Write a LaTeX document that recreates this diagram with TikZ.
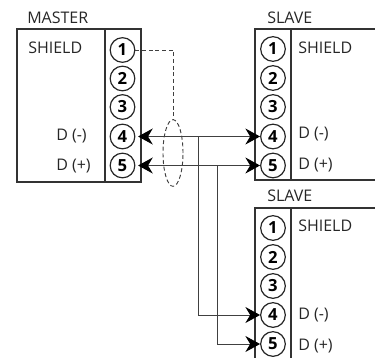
\documentclass[tikz,border=0pt]{standalone}
\usepackage{fontspec}
\setmainfont{Open Sans}
\usetikzlibrary{arrows.meta, shapes.geometric}

\begin{document}
\begin{tikzpicture}[
    x=0.75pt, y=-0.75pt,
    pin/.style={circle, draw=black!85, line width=0.9pt, fill=white,
        minimum size=18.5pt, inner sep=0pt, font=\fontsize{12.5}{14}\selectfont\bfseries},
    caption/.style={anchor=west, inner sep=0pt, text=black!85, font=\fontsize{12}{14}\selectfont},
    frame/.style={draw=black!80, line width=1pt},
    wire/.style={draw=black!75, line width=0.7pt, shorten <=2pt,
        {Stealth[length=11pt,width=12pt,black]}-{Stealth[length=11pt,width=12pt,black]}},
    branch/.style={draw=black!75, line width=0.7pt, -{Stealth[length=11pt,width=12pt,black]}},
    shield/.style={draw=black!75, line width=0.7pt, dash pattern=on 3pt off 2pt}
]
    \useasboundingbox (0,0) rectangle (375,358);
    % boxes
    \draw[frame] (17,29) rectangle (141,182);
    \draw[frame] (105,29) -- (105,182);
    \draw[frame] (375,29) -- (255,29) -- (255,180) -- (375,180);
    \draw[frame] (291,29) -- (291,180);
    \draw[frame] (375,208) -- (255,208) -- (255,358);
    \draw[frame] (291,208) -- (291,358);
    % master
    \node[caption] (mastertitle) at (27,18) {MASTER};
    \node[caption] (mastershield) at (28,48) {SHIELD};
    \node[caption] (masterneg) at (56,136) {D (-)};
    \node[caption] (masterpos) at (56,166) {D (+)};
    \node[pin] (m1) at (122.5,50) {1};
    \node[pin] (m2) at (122.5,78.5) {2};
    \node[pin] (m3) at (122.5,107) {3};
    \node[pin] (m4) at (122.5,136.5) {4};
    \node[pin] (m5) at (122.5,165.5) {5};
    % first slave
    \node[caption] (slaveatitle) at (267,18) {SLAVE};
    \node[caption] (slaveashield) at (298,48) {SHIELD};
    \node[caption] (slaveaneg) at (298,134) {D (-)};
    \node[caption] (slaveapos) at (298,165) {D (+)};
    \node[pin] (a1) at (273,49) {1};
    \node[pin] (a2) at (273,78) {2};
    \node[pin] (a3) at (273,107) {3};
    \node[pin] (a4) at (273,136.5) {4};
    \node[pin] (a5) at (273,165.5) {5};
    % second slave
    \node[caption] (slavebtitle) at (267,196) {SLAVE};
    \node[caption] (slavebshield) at (298,226) {SHIELD};
    \node[caption] (slavebneg) at (298,315) {D (-)};
    \node[caption] (slavebpos) at (298,346) {D (+)};
    \node[pin] (b1) at (273,228) {1};
    \node[pin] (b2) at (273,257) {2};
    \node[pin] (b3) at (273,286) {3};
    \node[pin] (b4) at (273,315) {4};
    \node[pin] (b5) at (273,344) {5};
    % wires
    \coordinate (tapneg) at (198.4,136.5);
    \coordinate (tappos) at (217.4,165.5);
    \draw[wire] (m4) -- (a4);
    \draw[wire] (m5) -- (a5);
    \draw[branch] (tapneg) |- (b4);
    \draw[branch] (tappos) |- (b5);
    % cable shield
    \node[shield, ellipse, minimum width=15pt, minimum height=50pt, inner sep=0pt] (cable) at (173,153) {};
    \draw[shield] (m1) -| (cable.north);
\end{tikzpicture}
\end{document}
